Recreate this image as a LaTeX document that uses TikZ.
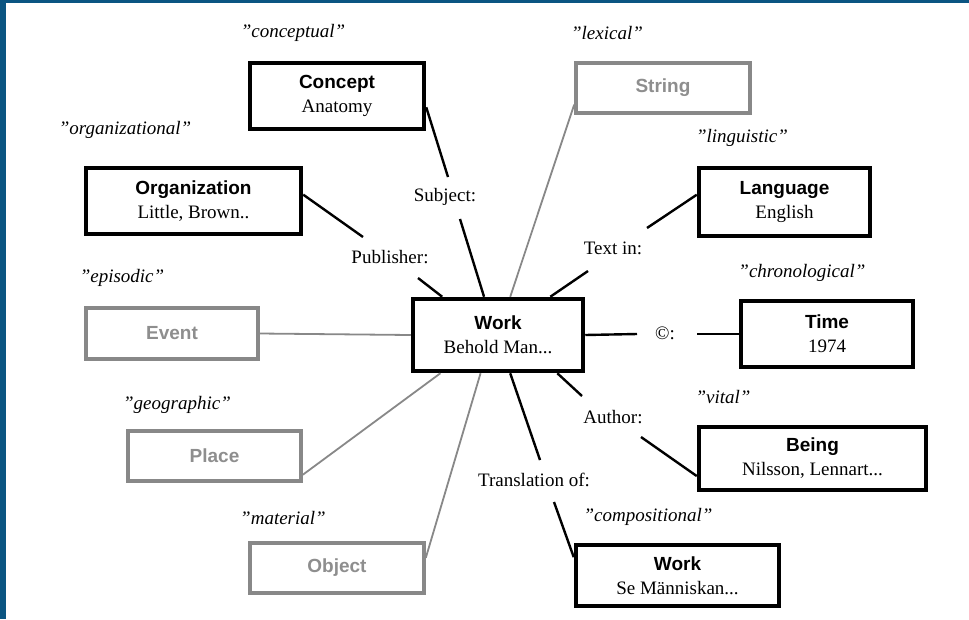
\documentclass[tikz,border=0pt]{standalone}
\usepackage{fontspec}
\setmainfont{Liberation Serif}
\setsansfont{Liberation Sans}
\usetikzlibrary{calc}
\definecolor{frameblue}{HTML}{0B5582}
\definecolor{boxgray}{HTML}{888888}
\definecolor{textgray}{HTML}{8E8E8E}
\newcommand\boxtitle[1]{{\sffamily\bfseries #1}}
\tikzset{
  box/.style={draw=black, line width=4.5pt, inner sep=0pt, align=center,
    font=\fontsize{19}{24}\selectfont},
  graybox/.style={draw=boxgray, line width=3.6pt, inner sep=0pt, align=center,
    text=textgray, font=\fontsize{19}{24}\selectfont\sffamily\bfseries},
  rel/.style={inner sep=1pt, font=\fontsize{19}{22}\selectfont},
  tag/.style={inner sep=1pt, font=\fontsize{19}{22}\selectfont\itshape},
  blackline/.style={draw=black, line width=2.4pt},
  grayline/.style={draw=boxgray, line width=1.8pt}
}
\begin{document}
\begin{tikzpicture}[x=1pt,y=-1pt]
\useasboundingbox (0,0) rectangle (969,619);
\fill[frameblue] (0,0) rectangle (969,619);
\fill[white] (6,3) rectangle (969,619);

% boxes
\node[box, minimum width=170pt, minimum height=72pt] (work) at (498,335) {\boxtitle{Work}\\Behold Man...};
\node[box, minimum width=174pt, minimum height=66pt] (concept) at (337,96) {\boxtitle{Concept}\\Anatomy};
\node[box, minimum width=215pt, minimum height=66pt] (org) at (193.5,201) {\boxtitle{Organization}\\Little, Brown..};
\node[graybox, minimum width=172pt, minimum height=51pt] (event) at (172,333.5) {Event};
\node[graybox, minimum width=173pt, minimum height=50pt] (place) at (214.5,456) {Place};
\node[graybox, minimum width=174pt, minimum height=50pt] (object) at (337,568) {Object};
\node[graybox, minimum width=174pt, minimum height=50pt] (string) at (663,88) {String};
\node[box, minimum width=171pt, minimum height=68pt] (lang) at (784.5,202) {\boxtitle{Language}\\English};
\node[box, minimum width=172pt, minimum height=66pt] (time) at (827,334) {\boxtitle{Time}\\1974};
\node[box, minimum width=227pt, minimum height=63pt] (being) at (812.5,458.5) {\boxtitle{Being}\\Nilsson, Lennart...};
\node[box, minimum width=203pt, minimum height=61pt] (work2) at (677.5,575.5) {\boxtitle{Work}\\Se Människan...};

% italic tags
\node[tag] (tconc) at (293,33) {"conceptual"};
\node[tag] (torg) at (125,130) {"organizational"};
\node[tag] (tepi) at (122,278) {"episodic"};
\node[tag] (tgeo) at (177,405) {"geographic"};
\node[tag] (tmat) at (283,518) {"material"};
\node[tag] (tlex) at (607,33) {"lexical"};
\node[tag] (tling) at (742,138) {"linguistic"};
\node[tag] (tchron) at (802,273) {"chronological"};
\node[tag] (tvital) at (723,397) {"vital"};
\node[tag] (tcomp) at (648,517) {"compositional"};

% relation labels
\node[rel] (subj) at (445,197) {Subject:};
\node[rel] (pub) at (390,257) {Publisher:};
\node[rel] (textin) at (613,248) {Text in:};
\node[rel] (copy) at (665,333) {©:};
\node[rel] (auth) at (613,417) {Author:};
\node[rel] (transl) at (534,480) {Translation of:};

% free ends of connectors near labels
\coordinate (subjA) at (448,177);
\coordinate (subjB) at (460,219);
\coordinate (pubA) at (363,237);
\coordinate (pubB) at (418,278);
\coordinate (textA) at (647,228);
\coordinate (textB) at (588,271);
\coordinate (copyA) at (637,334);
\coordinate (copyB) at (697,334);
\coordinate (authA) at (582,396);
\coordinate (authB) at (641,437);
\coordinate (transA) at (540,460);
\coordinate (transB) at (554,502);

% connectors
\draw[blackline] ($(concept.north east)!0.66!(concept.south east)$) -- (subjA);
\draw[blackline] (subjB) -- ($(work.north west)!0.42!(work.north east)$);
\draw[blackline] ($(org.north east)!0.41!(org.south east)$) -- (pubA);
\draw[blackline] (pubB) -- ($(work.north west)!0.18!(work.north east)$);
\draw[grayline] ($(string.north west)!0.81!(string.south west)$) -- ($(work.north west)!0.57!(work.north east)$);
\draw[blackline] ($(lang.north west)!0.40!(lang.south west)$) -- (textA);
\draw[blackline] (textB) -- ($(work.north west)!0.80!(work.north east)$);
\draw[blackline] (work.east) -- (copyA);
\draw[blackline] (copyB) -- (time.west);
\draw[grayline] (event.east) -- (work.west);
\draw[grayline] ($(place.north east)!0.85!(place.south east)$) -- ($(work.south west)!0.17!(work.south east)$);
\draw[grayline] ($(object.north east)!0.31!(object.south east)$) -- ($(work.south west)!0.40!(work.south east)$);
\draw[blackline] ($(work.south west)!0.57!(work.south east)$) -- (transA);
\draw[blackline] (transB) -- ($(work2.north west)!0.22!(work2.south west)$);
\draw[blackline] ($(work.south west)!0.84!(work.south east)$) -- (authA);
\draw[blackline] (authB) -- ($(being.north west)!0.76!(being.south west)$);
\end{tikzpicture}
\end{document}
